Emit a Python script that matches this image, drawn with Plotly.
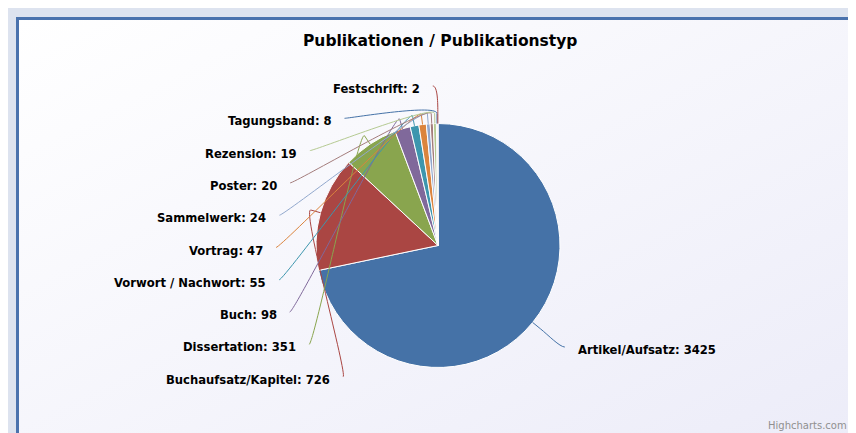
import base64
import math
import plotly.graph_objects as go

# ---------------- data ----------------
TITLE = "Publikationen / Publikationstyp"
CREDIT = "Highcharts.com"
categories = ["Artikel/Aufsatz", "Buchaufsatz/Kapitel", "Dissertation", "Buch",
              "Vorwort / Nachwort", "Vortrag", "Sammelwerk", "Poster",
              "Rezension", "Tagungsband", "Festschrift"]
counts = [3425, 726, 351, 98, 55, 47, 24, 20, 19, 8, 2]

# ---------------- styles / layout constants ----------------
colors = ["#4572A7", "#AA4643", "#89A54E", "#80699B", "#3D96AE", "#DB843D",
          "#92A8CD", "#A47D7C", "#B5CA92", "#4572A7", "#AA4643"]
VW, VH = 856, 433                # browser window
OFF = 8                          # page body margin
W, H = VW - OFF, VH - OFF        # figure size
CX, CY, R = 438, 245.5, 122      # pie centre / radius (window px)
LCY, LR = 248, 157               # label circle
BREAK = 10                       # connector break outside pie
SLOT_TOP, SLOT_STEP = 86, 32.3   # label slots on the left side
PAD = 5
TEXT_GAP = 16
FONT = "DejaVu Sans"

total = sum(counts)
cum = 0
info = []
for i, v in enumerate(counts):
    m = (cum + v / 2) / total * 2 * math.pi
    cum += v
    ex, ey = CX + R * math.sin(m), CY - R * math.cos(m)
    bx, by = CX + (R + BREAK) * math.sin(m), CY - (R + BREAK) * math.cos(m)
    ny = LCY - LR * math.cos(m)
    info.append(dict(i=i, m=m, e=(ex, ey), b=(bx, by), ny=ny, left=math.sin(m) < 0))


def getx(y, left):
    d = math.sqrt(max(LR ** 2 - (y - LCY) ** 2, 0))
    return CX - d if left else CX + d


left = sorted([p for p in info if p["left"]], key=lambda p: p["ny"])
right = [p for p in info if not p["left"]]
for k, p in enumerate(left):
    p["y"] = SLOT_TOP + k * SLOT_STEP
    p["x"] = getx(p["ny"] if k == 0 else p["y"], True)
for p in right:
    p["y"] = p["ny"]
    p["x"] = getx(p["y"], False)

shapes = []
annotations = []
for p in info:
    i = p["i"]
    x, y = p["x"], p["y"]
    (ex, ey), (bx, by) = p["e"], p["b"]
    sx = x - PAD if p["left"] else x + PAD
    path = (f"M {sx:.2f},{y:.2f} C {x:.2f},{y:.2f} {2*bx-ex:.2f},{2*by-ey:.2f} "
            f"{bx:.2f},{by:.2f} L {ex:.2f},{ey:.2f}")
    shapes.append(dict(type="path", path=path, xref="x", yref="y", layer="above",
                       line=dict(color=colors[i], width=1)))
    annotations.append(dict(
        x=x - TEXT_GAP if p["left"] else x + TEXT_GAP, y=y + 3, xref="x", yref="y",
        xanchor="right" if p["left"] else "left", yanchor="middle", showarrow=False,
        text=f"{categories[i]}: {counts[i]}",
        font=dict(family=FONT, size=11.6, color="#000000", weight="bold")))

annotations.append(dict(x=440, y=41, xref="x", yref="y", xanchor="center", yanchor="middle",
                        showarrow=False, text=TITLE,
                        font=dict(family=FONT, size=15.5, color="#000000", weight="bold")))
annotations.append(dict(x=849, y=425, xref="x", yref="y", xanchor="right", yanchor="middle",
                        showarrow=False, text=CREDIT,
                        font=dict(family=FONT, size=10, color="#909090")))

# background (outer band, border, gradient) in window coordinates
svg = f'''<svg xmlns="http://www.w3.org/2000/svg" width="{W}" height="{H}" viewBox="{OFF} {OFF} {W} {H}">
<defs><linearGradient id="g" x1="0" y1="0" x2="1" y2="1">
<stop offset="0" stop-color="#ffffff"/><stop offset="1" stop-color="#ebebf8"/></linearGradient></defs>
<rect width="{VW}" height="{VH}" fill="#dde3ef"/>
<rect x="17.5" y="18.5" width="{VW+20}" height="{VH+20}" fill="url(#g)" stroke="#4a72ad" stroke-width="3"/>
</svg>'''
bg_src = "data:image/svg+xml;base64," + base64.b64encode(svg.encode()).decode()

fig = go.Figure()
fig.add_trace(go.Scatter(x=[OFF, VW], y=[OFF, VH], mode="markers", marker=dict(opacity=0),
                         hoverinfo="skip", showlegend=False))
fig.add_trace(go.Pie(
    labels=categories, values=counts, sort=False, direction="clockwise", rotation=0,
    marker=dict(colors=colors, line=dict(color="#ffffff", width=1)),
    textinfo="none", showlegend=False,
    domain=dict(x=[(CX - R - OFF) / W, (CX + R - OFF) / W],
                y=[(VH - CY - R) / H, (VH - CY + R) / H])))

fig.update_layout(
    width=W, height=H, margin=dict(l=0, r=0, t=0, b=0, pad=0),
    paper_bgcolor="#dde3ef", plot_bgcolor="rgba(0,0,0,0)", showlegend=False,
    xaxis=dict(range=[OFF, VW], visible=False, fixedrange=True),
    yaxis=dict(range=[VH, OFF], visible=False, fixedrange=True),
    shapes=shapes, annotations=annotations,
    images=[dict(source=bg_src, xref="paper", yref="paper", x=0, y=1, sizex=1, sizey=1,
                 xanchor="left", yanchor="top", sizing="stretch", layer="below")])

fig.write_html("out.html")
